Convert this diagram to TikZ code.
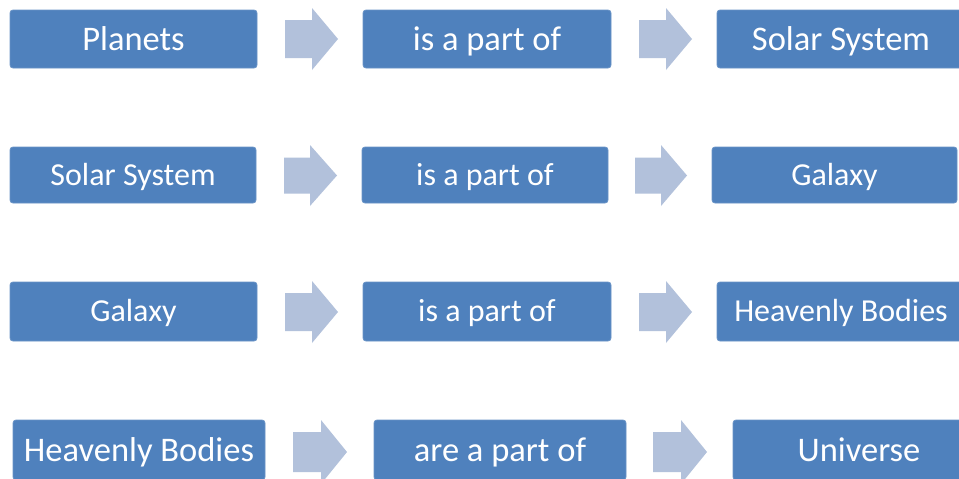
\documentclass[tikz,border=0pt]{standalone}
\usepackage{fontspec}
\setmainfont{Carlito}
\definecolor{boxblue}{HTML}{4F81BD}
\definecolor{arrowblue}{HTML}{B2C1DB}
\tikzset{
  box/.style={fill=boxblue, draw=boxblue!85!white, line width=0.8pt, rounded corners=3pt,
    text=white, font=\fontsize{32}{36}\selectfont, inner sep=0pt,
    text height=20.6pt, text depth=0pt, minimum height=56pt},
  bigtext/.style={font=\fontsize{34.5}{38}\selectfont, text height=22.2pt},
  arrowfill/.style={fill=arrowblue}
}
% block arrow: shaft start, head start, tip, centre y, shaft half, head half
\newcommand\blockarr[6]{\fill[arrowfill] (#1,#4-#5) -- (#2,#4-#5) -- (#2,#4-#6) -- (#3,#4)
  -- (#2,#4+#6) -- (#2,#4+#5) -- (#1,#4+#5) -- cycle;}
\begin{document}
\begin{tikzpicture}[x=1pt,y=-1pt]
\useasboundingbox[fill=white] (0,0) rectangle (959,479);
% row 1
\node[box, bigtext, minimum width=247pt, minimum height=58pt] (p1) at (133.5,39) {Planets};
\node[box, bigtext, minimum width=248pt, minimum height=58pt] (p2) at (487,39) {is a part of};
\node[box, bigtext, minimum width=248pt, minimum height=58pt] (p3) at (841,39) {Solar System};
\blockarr{285}{312}{338}{39}{19}{31}
\blockarr{639}{666}{692}{39}{19}{31}
% row 2
\node[box, minimum width=246pt] (s1) at (133,175) {Solar System};
\node[box, minimum width=246pt] (s2) at (485,175) {is a part of};
\node[box, minimum width=245pt] (s3) at (834.5,175) {Galaxy};
\blockarr{284}{310}{337}{175.5}{18}{30.5}
\blockarr{635}{661}{687}{175.5}{18}{30.5}
% row 3
\node[box, minimum width=247pt, minimum height=59pt] (g1) at (133.5,311.5) {Galaxy};
\node[box, minimum width=248pt, minimum height=59pt] (g2) at (487,311.5) {is a part of};
\node[box, minimum width=248pt, minimum height=59pt] (g3) at (841,311.5) {Heavenly Bodies};
\blockarr{285}{312}{338}{312}{19}{31}
\blockarr{639}{666}{692}{312}{19}{31}
% row 4
\node[box, bigtext, minimum width=252pt, minimum height=60pt] (h1) at (139,450) {Heavenly Bodies};
\node[box, bigtext, minimum width=252pt, minimum height=60pt] (h2) at (500,450) {are a part of};
\node[box, bigtext, minimum width=252pt, minimum height=60pt] (h3) at (859,450) {Universe};
\blockarr{293}{321}{347}{452}{20}{32}
\blockarr{653}{681}{707}{452}{20}{32}
\end{tikzpicture}
\end{document}
